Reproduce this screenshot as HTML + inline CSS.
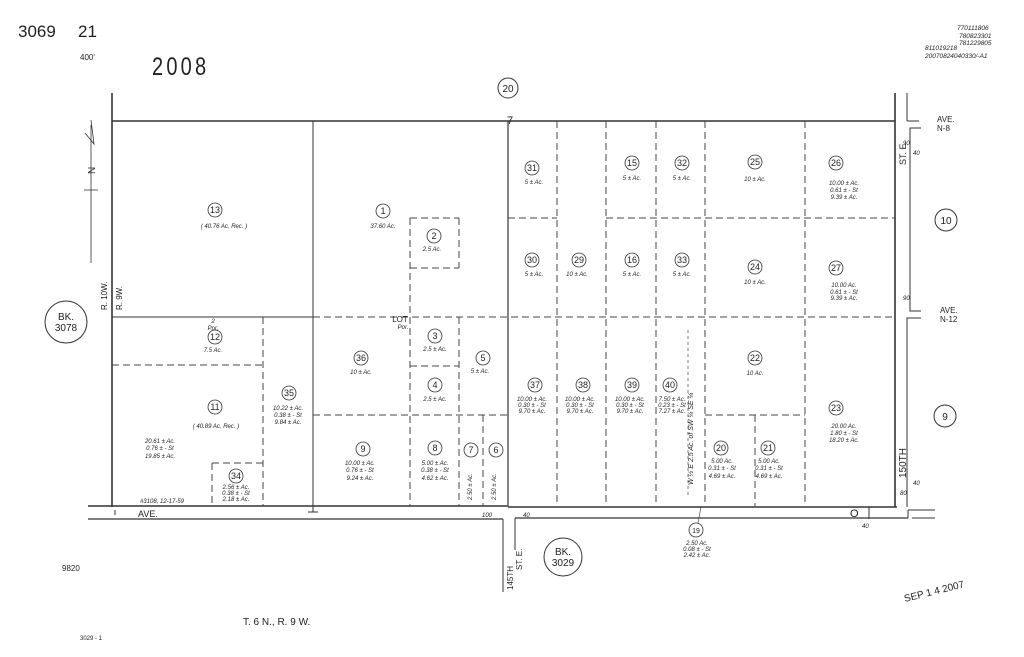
<!DOCTYPE html>
<html><head><meta charset="utf-8"><style>
html,body{margin:0;padding:0;background:#fff;}
svg{display:block;}
text{font-family:"Liberation Sans",sans-serif;fill:#222;}
.s{font-size:6px;font-style:italic;}
.n{font-size:9px;}
</style></head><body>
<svg width="1024" height="657" viewBox="0 0 1024 657" xmlns="http://www.w3.org/2000/svg">
<rect width="1024" height="657" fill="#fff"/>
<!-- header -->
<text x="18" y="37" font-size="17" fill="#222">3069</text>
<text x="78" y="37" font-size="17">21</text>
<text x="80" y="60" font-size="8" fill="#666">400'</text>
<text transform="translate(152,75) scale(0.8,1)" font-size="25" letter-spacing="4">2008</text>
<circle cx="508" cy="88" r="10" fill="none" stroke="#333" stroke-width="1"/>
<text x="508" y="92" font-size="10" text-anchor="middle">20</text>
<g class="s" font-size="6">
<text x="957" y="30" font-size="6.5">770111806</text>
<text x="959" y="38" font-size="6.5">780823301</text>
<text x="959" y="45" font-size="6.5">781229805</text>
<text x="925" y="50" font-size="6.5">811019218</text>
<text x="925" y="58" font-size="6.5">20070824040330/-A1</text>
</g>
<g stroke="#333" fill="none">
<line x1="112" y1="93" x2="112" y2="507" stroke-width="1.6"/>
<line x1="112" y1="121" x2="895" y2="121" stroke-width="1.4"/>
<line x1="88" y1="506" x2="508" y2="506" stroke-width="1.6"/>
<line x1="508" y1="507" x2="897" y2="507" stroke-width="1.6"/>
<line x1="895" y1="93" x2="895" y2="507" stroke-width="1.6"/>
<line x1="313" y1="121" x2="313" y2="506" stroke-width="1"/>
<line x1="508" y1="121" x2="508" y2="506" stroke-width="1.2"/>
<line x1="112" y1="317" x2="313" y2="317" stroke-width="1"/>
<line x1="88" y1="519" x2="503" y2="519" stroke-width="1.2"/>
<line x1="503" y1="519" x2="503" y2="592" stroke-width="1"/>
<line x1="515" y1="518" x2="515" y2="550" stroke-width="1"/>
<line x1="515" y1="518" x2="908" y2="518" stroke-width="1.2"/>
<line x1="908" y1="518" x2="908" y2="510" stroke-width="1"/>
<line x1="908" y1="510" x2="935" y2="510" stroke-width="1"/>
<line x1="912" y1="518" x2="935" y2="518" stroke-width="1"/>
<line x1="907" y1="93" x2="907" y2="121" stroke-width="1"/>
<line x1="907" y1="121" x2="919" y2="121" stroke-width="1"/>
<polyline points="921,128 910,128 910,311 921,311" stroke-width="1"/>
<polyline points="921,318 907,318 907,507" stroke-width="1"/>
<!-- north arrow -->
<line x1="91" y1="125" x2="91" y2="263" stroke-width="0.8"/>
<line x1="84" y1="190" x2="98" y2="190" stroke-width="0.8"/>
<polyline points="85,133 94,144 91,120" stroke-width="0.8"/>
<circle cx="66" cy="322" r="21" stroke-width="1"/>
<circle cx="563" cy="557" r="19" stroke-width="1"/>
<circle cx="946" cy="220" r="11" stroke-width="1"/>
<circle cx="945" cy="416" r="11" stroke-width="1"/>
<circle cx="696" cy="530" r="7" stroke-width="0.8"/>
<line x1="698" y1="523" x2="701" y2="507" stroke-width="0.6"/>
<line x1="313" y1="506" x2="313" y2="512"/><line x1="308" y1="512" x2="318" y2="512"/>
<line x1="115" y1="510" x2="115" y2="515"/>
<line x1="869" y1="507" x2="869" y2="519"/>
</g>
<text transform="translate(95,174) rotate(-90)" font-size="10">N</text>
<g stroke="#444" stroke-width="1" fill="none" stroke-dasharray="7,4">
<line x1="313" y1="317" x2="895" y2="317"/>
<line x1="557" y1="121" x2="557" y2="506"/>
<line x1="606" y1="121" x2="606" y2="506"/>
<line x1="656" y1="121" x2="656" y2="506"/>
<line x1="705" y1="121" x2="705" y2="506"/>
<line x1="805" y1="121" x2="805" y2="506"/>
<line x1="508" y1="218" x2="557" y2="218"/>
<line x1="606" y1="218" x2="895" y2="218"/>
<line x1="112" y1="365" x2="263" y2="365"/>
<line x1="263" y1="317" x2="263" y2="506"/>
<line x1="313" y1="415" x2="508" y2="415"/>
<line x1="410" y1="218" x2="410" y2="506"/>
<line x1="410" y1="218" x2="459" y2="218"/>
<line x1="459" y1="218" x2="459" y2="268"/>
<line x1="410" y1="268" x2="459" y2="268"/>
<line x1="459" y1="317" x2="459" y2="506"/>
<line x1="410" y1="366" x2="459" y2="366"/>
<line x1="483" y1="415" x2="483" y2="506"/>
<line x1="212" y1="463" x2="263" y2="463"/>
<line x1="212" y1="463" x2="212" y2="506"/>
<line x1="705" y1="415" x2="805" y2="415"/>
<line x1="755" y1="415" x2="755" y2="506"/>
<line x1="688" y1="330" x2="688" y2="495" stroke-dasharray="3,3" stroke-width="0.7"/>
</g>
<g fill="none" stroke="#333" stroke-width="0.8">
<circle cx="215" cy="210" r="7"/><circle cx="383" cy="211" r="7"/><circle cx="434" cy="236" r="7"/>
<circle cx="215" cy="337" r="7"/><circle cx="215" cy="407" r="7"/><circle cx="289" cy="393" r="7"/>
<circle cx="236" cy="476" r="7"/><circle cx="361" cy="358" r="7"/><circle cx="435" cy="336" r="7"/>
<circle cx="435" cy="385" r="7"/><circle cx="483" cy="358" r="7"/><circle cx="363" cy="449" r="7"/>
<circle cx="435" cy="448" r="7"/><circle cx="471" cy="450" r="7"/><circle cx="496" cy="450" r="7"/>
<circle cx="532" cy="168" r="7"/><circle cx="532" cy="260" r="7"/><circle cx="579" cy="260" r="7"/>
<circle cx="632" cy="163" r="7"/><circle cx="682" cy="163" r="7"/><circle cx="755" cy="162" r="7"/>
<circle cx="836" cy="163" r="7"/><circle cx="632" cy="260" r="7"/><circle cx="682" cy="260" r="7"/>
<circle cx="755" cy="267" r="7"/><circle cx="836" cy="268" r="7"/><circle cx="755" cy="358" r="7"/>
<circle cx="836" cy="408" r="7"/><circle cx="535" cy="385" r="7"/><circle cx="583" cy="385" r="7"/>
<circle cx="632" cy="385" r="7"/><circle cx="670" cy="385" r="7"/><circle cx="721" cy="448" r="7"/>
<circle cx="768" cy="448" r="7"/>
</g>
<g class="n" text-anchor="middle" font-size="8">
<text x="215" y="213">13</text><text x="383" y="214">1</text><text x="434" y="239">2</text>
<text x="215" y="340">12</text><text x="215" y="410">11</text><text x="289" y="396">35</text>
<text x="236" y="479">34</text><text x="361" y="361">36</text><text x="435" y="339">3</text>
<text x="435" y="388">4</text><text x="483" y="361">5</text><text x="363" y="452">9</text>
<text x="435" y="451">8</text><text x="471" y="453">7</text><text x="496" y="453">6</text>
<text x="532" y="171">31</text><text x="532" y="263">30</text><text x="579" y="263">29</text>
<text x="632" y="166">15</text><text x="682" y="166">32</text><text x="755" y="165">25</text>
<text x="836" y="166">26</text><text x="632" y="263">16</text><text x="682" y="263">33</text>
<text x="755" y="270">24</text><text x="836" y="271">27</text><text x="755" y="361">22</text>
<text x="836" y="411">23</text><text x="535" y="388">37</text><text x="583" y="388">38</text>
<text x="632" y="388">39</text><text x="670" y="388">40</text><text x="721" y="451">20</text>
<text x="768" y="451">21</text><text x="696" y="533" font-size="7">19</text>
</g>
<g class="s" text-anchor="middle">
<text x="224" y="228">( 40.76 Ac. Rec. )</text>
<text x="383" y="228">37.60 Ac.</text>
<text x="432" y="251">2.5 Ac.</text>
<text x="213" y="352">7.5 Ac.</text>
<text x="216" y="428">( 40.89 Ac. Rec. )</text>
<text x="160" y="443">20.61 ± Ac.</text><text x="160" y="450">0.76 ± - St</text><text x="160" y="458">19.85 ± Ac.</text>
<text x="288" y="410">10.22 ± Ac.</text><text x="288" y="417">0.38 ± - St</text><text x="288" y="424">9.84 ± Ac.</text>
<text x="361" y="374">10 ± Ac.</text><text x="435" y="351">2.5 ± Ac.</text><text x="435" y="401">2.5 ± Ac.</text>
<text x="480" y="373">5 ± Ac.</text>
<text x="360" y="465">10.00 ± Ac.</text><text x="360" y="472">0.76 ± - St</text><text x="360" y="480">9.24 ± Ac.</text>
<text x="435" y="465">5.00 ± Ac.</text><text x="435" y="472">0.38 ± - St</text><text x="435" y="480">4.62 ± Ac.</text>
<text x="236" y="489">2.56 ± Ac.</text><text x="236" y="495">0.38 ± - St</text><text x="236" y="501">2.18 ± Ac.</text>
<text x="534" y="184">5 ± Ac.</text><text x="534" y="276">5 ± Ac.</text><text x="577" y="276">10 ± Ac.</text>
<text x="632" y="180">5 ± Ac.</text><text x="682" y="180">5 ± Ac.</text><text x="755" y="181">10 ± Ac.</text>
<text x="632" y="276">5 ± Ac.</text><text x="682" y="276">5 ± Ac.</text><text x="755" y="284">10 ± Ac.</text>
<text x="755" y="375">10 Ac.</text>
<text x="844" y="185">10.00 ± Ac.</text><text x="844" y="192">0.61 ± - St</text><text x="844" y="199">9.39 ± Ac.</text>
<text x="844" y="287">10.00 Ac.</text><text x="844" y="294">0.61 ± - St</text><text x="844" y="300">9.39 ± Ac.</text>
<text x="844" y="428">20.00 Ac.</text><text x="844" y="435">1.80 ± - St</text><text x="844" y="442">18.20 ± Ac.</text>
<text x="532" y="401">10.00 ± Ac.</text><text x="532" y="407">0.30 ± - St</text><text x="532" y="413">9.70 ± Ac.</text>
<text x="580" y="401">10.00 ± Ac.</text><text x="580" y="407">0.30 ± - St</text><text x="580" y="413">9.70 ± Ac.</text>
<text x="630" y="401">10.00 ± Ac.</text><text x="630" y="407">0.30 ± - St</text><text x="630" y="413">9.70 ± Ac.</text>
<text x="672" y="401">7.50 ± Ac.</text><text x="672" y="407">0.23 ± - St</text><text x="672" y="413">7.27 ± Ac.</text>
<text x="722" y="463">5.00 Ac.</text><text x="722" y="470">0.31 ± - St</text><text x="722" y="478">4.69 ± Ac.</text>
<text x="769" y="463">5.00 Ac.</text><text x="769" y="470">0.31 ± - St</text><text x="769" y="478">4.69 ± Ac.</text>
<text x="697" y="545">2.50 Ac.</text><text x="697" y="551">0.08 ± - St</text><text x="697" y="557">2.42 ± Ac.</text>
<text x="213" y="323">2</text><text x="213" y="330">Por.</text>
<text x="400" y="322" font-style="normal" font-size="8">LOT</text><text x="403" y="329">Por.</text>
<text x="162" y="503">#3108, 12-17-59</text>
</g>
<g class="s">
<text transform="translate(472,500) rotate(-90)">2.50 ± Ac.</text>
<text transform="translate(496,500) rotate(-90)">2.50 ± Ac.</text>
<text transform="translate(693,485) rotate(-90)" font-size="7">W ½ E 2.5 Ac. of SW ¼ SE ¼</text>
</g>
<text x="138" y="517" font-size="9">AVE.</text>
<text x="510" y="124" font-size="11" text-anchor="middle">7</text>
<text x="850" y="517" font-size="11">O</text>
<text x="937" y="122" font-size="8">AVE.</text><text x="937" y="131" font-size="8">N-8</text>
<text x="940" y="313" font-size="8">AVE.</text><text x="940" y="322" font-size="8">N-12</text>
<text transform="translate(906,165) rotate(-90)" font-size="9">ST. E.</text>
<text transform="translate(906,478) rotate(-90)" font-size="10">150TH</text>
<text transform="translate(513,590) rotate(-90)" font-size="8">145TH</text>
<text transform="translate(522,570) rotate(-90)" font-size="8">ST. E.</text>
<text transform="translate(107,310) rotate(-90)" font-size="8">R. 10W.</text>
<text transform="translate(122,310) rotate(-90)" font-size="8">R. 9W.</text>
<text x="66" y="320" font-size="10" text-anchor="middle">BK.</text>
<text x="66" y="331" font-size="10" text-anchor="middle">3078</text>
<text x="563" y="555" font-size="10" text-anchor="middle">BK.</text>
<text x="563" y="566" font-size="10" text-anchor="middle">3029</text>
<text x="946" y="224" font-size="10" text-anchor="middle">10</text>
<text x="945" y="420" font-size="10" text-anchor="middle">9</text>
<text x="62" y="571" font-size="8" fill="#555">9820</text>
<text x="243" y="625" font-size="10">T. 6 N., R. 9 W.</text>
<text x="80" y="640" font-size="6" fill="#555">3029 - 1</text>
<text transform="translate(905,602) rotate(-14)" font-size="10" fill="#444">SEP 1 4 2007</text>
<g font-size="5" class="s">
<text x="903" y="145">90</text><text x="913" y="155">40</text><text x="903" y="300">90</text>
<text x="913" y="485">40</text><text x="900" y="495">80</text>
<text x="862" y="528">40</text><text x="523" y="517">40</text><text x="482" y="517">100</text>
</g>
</svg>
</body></html>
